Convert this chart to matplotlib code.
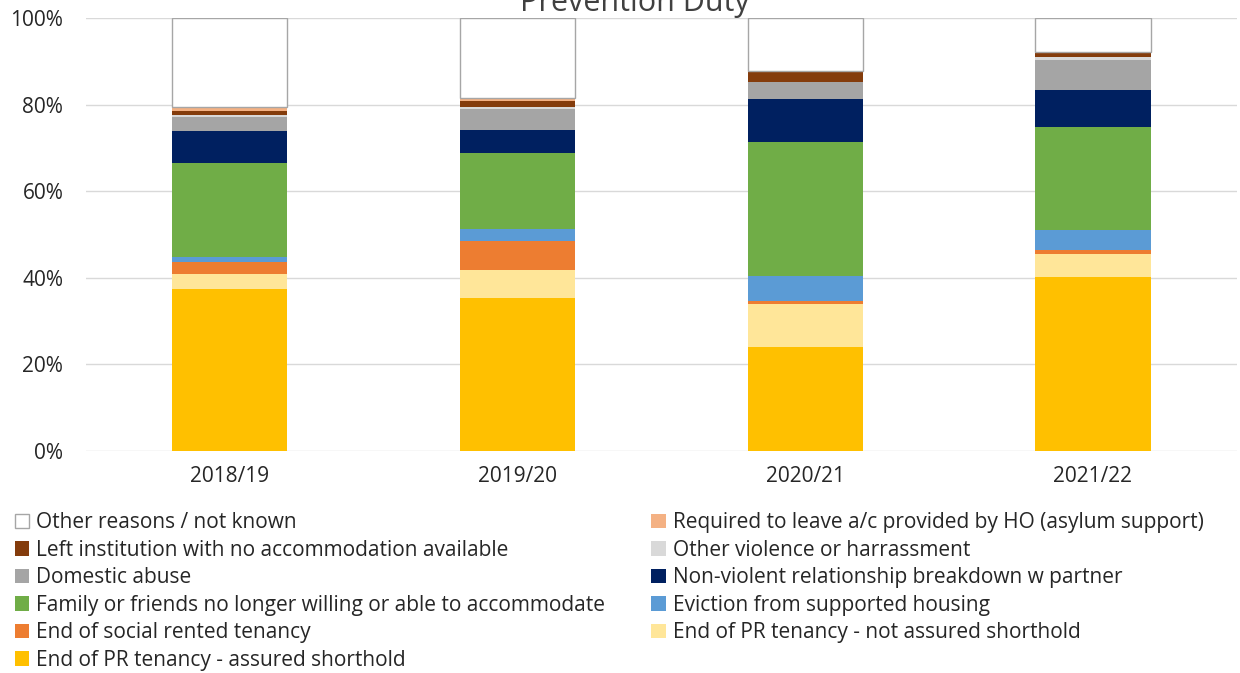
import matplotlib.pyplot as plt
import numpy as np

plt.rcParams['font.family'] = ['Open Sans', 'DejaVu Sans']

years = ['2018/19', '2019/20', '2020/21', '2021/22']

# shares in %, bottom to top
pr_ast = [37.4, 35.4, 24.1, 40.1]
pr_not_ast = [3.5, 6.4, 9.8, 5.3]
social = [2.7, 6.6, 0.7, 0.9]
supported = [1.1, 2.8, 5.7, 4.7]
family = [21.7, 17.6, 31.1, 23.9]
nonviolent = [7.5, 5.3, 9.8, 8.5]
domestic = [3.3, 4.9, 3.9, 6.9]
violence = [0.4, 0.4, 0.1, 0.8]
institution = [1.0, 1.5, 2.5, 0.7]
asylum = [0.8, 0.7, 0.0, 0.3]
other = [20.6, 18.4, 12.4, 7.9]

series = [
    ('End of PR tenancy - assured shorthold', pr_ast, '#ffc000'),
    ('End of PR tenancy - not assured shorthold', pr_not_ast, '#ffe699'),
    ('End of social rented tenancy', social, '#ed7d31'),
    ('Eviction from supported housing', supported, '#5b9bd5'),
    ('Family or friends no longer willing or able to accommodate', family, '#70ad47'),
    ('Non-violent relationship breakdown w partner', nonviolent, '#002060'),
    ('Domestic abuse', domestic, '#a5a5a5'),
    ('Other violence or harrassment', violence, '#d9d9d9'),
    ('Left institution with no accommodation available', institution, '#843c0c'),
    ('Required to leave a/c provided by HO (asylum support)', asylum, '#f4b183'),
    ('Other reasons / not known', other, '#ffffff'),
]

fig = plt.figure(figsize=(12.4, 6.73), dpi=100)
ax = fig.add_axes([0.069, 0.33, 0.9285, 0.6433])

x = np.arange(len(years))
bottom = np.zeros(len(years))
handles = {}
for name, vals, col in series:
    vals = np.array(vals)
    if name.startswith('Other reasons'):
        h = ax.bar(x, vals, 0.4, bottom=bottom, color=col, edgecolor='#a6a6a6', linewidth=1, zorder=3)
    else:
        h = ax.bar(x, vals, 0.4, bottom=bottom, color=col, linewidth=0, zorder=3)
    handles[name] = h
    bottom += vals

ax.set_xlim(-0.5, 3.5)
ax.set_ylim(0, 100)
ax.set_yticks([0, 20, 40, 60, 80, 100])
ax.set_yticklabels(['0%', '20%', '40%', '60%', '80%', '100%'])
ax.set_xticks(x)
ax.set_xticklabels(years)
ax.tick_params(length=0, labelsize=15, colors='#262626')
ax.tick_params(axis='x', pad=11)
ax.tick_params(axis='y', pad=16)
ax.yaxis.grid(True, color='#d9d9d9', linewidth=1, zorder=0)
for s in ax.spines.values():
    s.set_visible(False)

# title sits partly above the top edge, as in the source image
fig.text(0.512, 0.996, 'Prevention Duty', ha='center', va='center', fontsize=22, color='#404040')

order = ['Other reasons / not known',
         'Left institution with no accommodation available',
         'Domestic abuse',
         'Family or friends no longer willing or able to accommodate',
         'End of social rented tenancy',
         'End of PR tenancy - assured shorthold',
         'Required to leave a/c provided by HO (asylum support)',
         'Other violence or harrassment',
         'Non-violent relationship breakdown w partner',
         'Eviction from supported housing',
         'End of PR tenancy - not assured shorthold']
leg = fig.legend([handles[n] for n in order], order, ncol=2, loc='upper left',
                 bbox_to_anchor=(0.005, 0.251), frameon=False, fontsize=15,
                 handlelength=0.7, handleheight=0.7, handletextpad=0.35,
                 labelspacing=0.31, columnspacing=2.2, borderaxespad=0)
for t in leg.get_texts():
    t.set_color('#262626')

plt.savefig('out.png', dpi=100)
